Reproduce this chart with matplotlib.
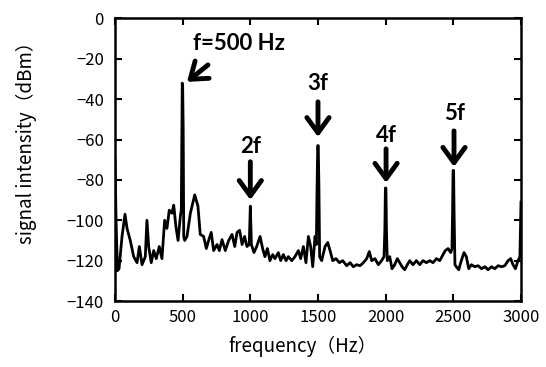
import matplotlib
matplotlib.use("Agg")
import matplotlib.pyplot as plt

# ---- data ----
freq = [0, 8, 18, 30, 52, 74, 89, 113, 138, 163, 180, 200, 224, 236, 249, 268, 286,
        305, 327, 347, 367, 384, 401, 421, 434, 450, 466, 483, 490, 494, 497, 500,
        504, 508, 515, 532, 557, 589, 613, 630, 655, 675, 692, 711, 729, 754, 771,
        791, 815, 840, 865, 885, 902, 921, 939, 958, 975, 992, 1000, 1008, 1027,
        1047, 1072, 1091, 1108, 1126, 1145, 1165, 1182, 1207, 1224, 1244, 1264,
        1281, 1306, 1330, 1355, 1372, 1392, 1411, 1429, 1446, 1461, 1478, 1488,
        1493, 1498, 1502, 1507, 1512, 1527, 1552, 1572, 1589, 1609, 1633, 1658,
        1683, 1712, 1737, 1761, 1786, 1811, 1835, 1860, 1879, 1897, 1921, 1946,
        1970, 1988, 1994, 1998, 2002, 2006, 2012, 2030, 2047, 2067, 2086, 2104,
        2121, 2141, 2160, 2178, 2202, 2227, 2252, 2276, 2301, 2326, 2350, 2375,
        2400, 2424, 2441, 2461, 2481, 2490, 2494, 2498, 2502, 2506, 2512, 2522,
        2540, 2559, 2579, 2596, 2614, 2633, 2658, 2683, 2708, 2733, 2757, 2782,
        2806, 2831, 2856, 2880, 2905, 2924, 2941, 2959, 2978, 2992, 3000]
power = [-70, -100, -125, -124, -108, -97, -104, -110, -118, -121, -113, -122, -118,
         -100, -113, -121, -115, -119, -113, -119, -100, -104, -95, -96.5, -92.5,
         -103, -110, -98, -95, -55, -32, -33, -55, -108, -110, -108, -96.5, -87.4,
         -93, -107, -108, -114, -110, -106, -115, -112, -115, -109.6, -115, -110,
         -107, -113, -106, -105, -112, -108, -113, -112, -93, -112, -116, -113,
         -108, -114, -118, -114, -120, -117, -119, -116, -120, -117, -120, -118,
         -120, -118, -115, -119, -113, -121, -108, -113, -123, -108, -112, -84,
         -63, -63, -84, -118, -120, -113, -111, -115, -120, -119, -121, -120,
         -122.5, -121, -123, -122, -122.5, -121, -119, -115.5, -120, -119, -122,
         -120, -118, -105, -84, -84, -105, -120, -118, -124, -122, -119, -121,
         -123, -124.5, -122, -120, -122, -120, -122, -120, -121, -120, -121, -119,
         -120, -117, -115, -114, -116, -114, -98, -75.3, -75.3, -98, -122, -123,
         -124.5, -120, -116, -118, -124, -122, -123, -122.5, -124, -123, -124.5,
         -123, -124, -122.5, -123, -122.5, -120, -119, -122, -124, -120, -118, -91]

xticks = [0, 500, 1000, 1500, 2000, 2500, 3000]
yticks = [0, -20, -40, -60, -80, -100, -120, -140]

labels = ["f=500 Hz", "2f", "3f", "4f", "5f"]
label_pos = [(576, -15.6), (1000, -63.6), (1500, -32.4), (2003, -58.2), (2505, -47.3)]
arrow_tail = [(687, -23.0), (1000, -71.0), (1500, -41.3), (2003, -64.6), (2505, -55.7)]
arrow_tip = [(532, -31.4), (1000, -89.9), (1500, -58.7), (2003, -81.4), (2505, -73.5)]

jp = ["Noto Sans CJK JP", "DejaVu Sans"]

fig = plt.figure(figsize=(5.46, 3.67), dpi=100)
ax = fig.add_axes([0.2106, 0.1798, 0.7436, 0.7698])

ax.plot(freq, power, color="black", lw=2.0, solid_joinstyle="round")

ax.set_xlim(0, 3000)
ax.set_ylim(-140, 0)
ax.set_xticks(xticks)
ax.set_yticks(yticks)
ax.set_xticklabels([str(t) for t in xticks], family=jp, fontsize=12)
ax.set_yticklabels([("\u2212" + str(-t)) if t < 0 else str(t) for t in yticks],
                   family=jp, fontsize=12)
ax.tick_params(direction="in", length=5, width=1.5, top=True, right=True)
ax.tick_params(axis="y", pad=8)
ax.tick_params(axis="x", pad=6)
for s in ax.spines.values():
    s.set_linewidth(1.8)

ax.set_xlabel("frequency（Hz）", family=jp, fontsize=13.5)
ax.set_ylabel("signal intensity（dBm）", family=jp, fontsize=13.5)
ax.xaxis.set_label_coords(0.463, -0.124)
ax.yaxis.set_label_coords(-0.192, 0.577)

for i, (lab, p) in enumerate(zip(labels, label_pos)):
    if i == 0:
        ax.text(p[0], p[1], lab, ha="left", va="baseline", fontsize=16,
                fontweight="bold", family="Lato")
    else:
        ax.text(p[0], p[1], lab, ha="center", va="center", fontsize=16,
                fontweight="bold", family="Lato")
for tail, tip in zip(arrow_tail, arrow_tip):
    ax.annotate("", xy=tip, xytext=tail,
                arrowprops=dict(arrowstyle="->,head_length=0.55,head_width=0.4",
                                lw=3.5, color="black", mutation_scale=20,
                                shrinkA=0, shrinkB=0))

fig.savefig("out.png", dpi=100)
